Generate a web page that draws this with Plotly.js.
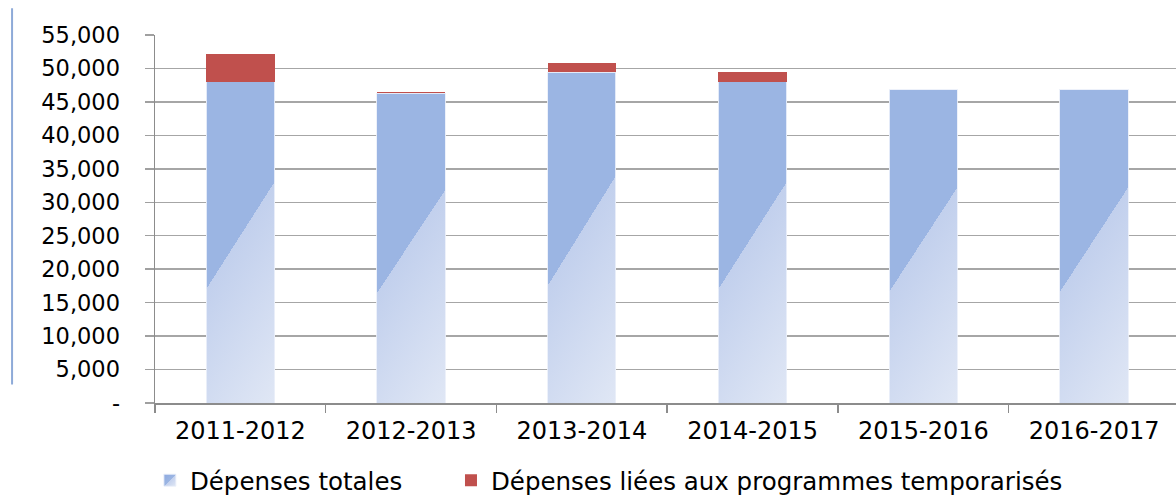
<!DOCTYPE html>
<html>
<head>
<meta charset="utf-8">
<script src="https://cdn.plot.ly/plotly-3.0.1.min.js"></script>
<style>
  html, body { margin: 0; padding: 0; background: #fff; }
  #chart { width: 1176px; height: 497px; }
  .barlayer .trace:nth-child(1) .point path { fill: url(#gBlue) !important; }
  .legend .traces:nth-child(1) .legendpoints path { fill: url(#gBlueLeg) !important; }
</style>
</head>
<body>
<svg width="0" height="0" style="position:absolute">
  <defs>
    <linearGradient id="gBlue" x1="0" y1="0" x2="0.4" y2="1.2" gradientUnits="objectBoundingBox">
      <stop offset="0" stop-color="#9bb5e3"/>
      <stop offset="0.484" stop-color="#9bb5e3"/>
      <stop offset="0.484" stop-color="#c2d0ed"/>
      <stop offset="1" stop-color="#e0e7f5"/>
    </linearGradient>
    <linearGradient id="gBlueLeg" x1="0" y1="0" x2="1" y2="1" gradientUnits="objectBoundingBox">
      <stop offset="0" stop-color="#8eaadf"/>
      <stop offset="0.5" stop-color="#9bb5e3"/>
      <stop offset="0.5" stop-color="#c2d0ed"/>
      <stop offset="1" stop-color="#e0e7f5"/>
    </linearGradient>
  </defs>
</svg>
<div id="chart"></div>
<script>
const categories = ["2011-2012", "2012-2013", "2013-2014", "2014-2015", "2015-2016", "2016-2017"];
const depensesTotales = [48000, 46300, 49400, 48000, 46850, 46850];
const depensesTemporarisees = [4200, 200, 1400, 1450, 0, 0];
const yTickVals = [0, 5000, 10000, 15000, 20000, 25000, 30000, 35000, 40000, 45000, 50000, 55000];
const yTickText = ["-", "5,000", "10,000", "15,000", "20,000", "25,000", "30,000", "35,000", "40,000", "45,000", "50,000", "55,000"];
const seriesNames = ["Dépenses totales", "Dépenses liées aux programmes temporarisés"];

const traces = [
  {
    type: "bar", x: categories, y: depensesTotales, name: seriesNames[0],
    width: 0.4, legend: "legend",
    marker: { color: "#9bb5e3", line: { color: "rgba(235,240,250,0.9)", width: 1 } },
    hoverinfo: "skip"
  },
  {
    type: "bar", x: categories, y: depensesTemporarisees, name: seriesNames[1],
    width: 0.4, legend: "legend2",
    marker: { color: "#c0504d", line: { width: 0 } },
    hoverinfo: "skip"
  }
];

const legendFont = { family: "DejaVu Sans", size: 24.5, color: "#000" };

const layout = {
  width: 1176, height: 497,
  margin: { l: 155, r: 0, t: 35, b: 94, autoexpand: false },
  paper_bgcolor: "#ffffff", plot_bgcolor: "#ffffff",
  barmode: "stack",
  showlegend: true,
  font: { family: "DejaVu Sans", color: "#000" },
  xaxis: {
    type: "category",
    range: [-0.5, 5.48],
    showline: true, linecolor: "#8c8c8c", linewidth: 1.5,
    ticks: "outside", tickson: "boundaries", ticklen: 8, tickcolor: "#8c8c8c", tickwidth: 1.5,
    tickfont: { family: "DejaVu Sans", size: 24, color: "#000" },
    ticklabelstandoff: 6,
    showgrid: false, zeroline: false
  },
  yaxis: {
    range: [0, 55000],
    tickmode: "array", tickvals: yTickVals, ticktext: yTickText,
    showline: true, linecolor: "#8c8c8c", linewidth: 1.5,
    ticks: "outside", ticklen: 9, tickcolor: "#a0a0a0", tickwidth: 1.5,
    showgrid: true, gridcolor: "#a6a6a6", gridwidth: 1.5,
    zeroline: false,
    tickfont: { family: "DejaVu Sans", size: 22.5, color: "#000" },
    ticklabelstandoff: 20
  },
  legend: {
    orientation: "h",
    x: -0.005, xanchor: "left", y: -0.21, yanchor: "middle",
    font: legendFont,
    bgcolor: "rgba(0,0,0,0)"
  },
  legend2: {
    orientation: "h",
    x: 0.2899, xanchor: "left", y: -0.21, yanchor: "middle",
    font: legendFont,
    bgcolor: "rgba(0,0,0,0)"
  },
  shapes: [
    {
      type: "line", xref: "paper", yref: "paper",
      x0: -0.14, x1: -0.14, y0: 0.05, y1: 1.073,
      line: { color: "#8eaad8", width: 2 }
    }
  ]
};

Plotly.newPlot("chart", traces, layout, { staticPlot: true, displayModeBar: false });
</script>
</body>
</html>
